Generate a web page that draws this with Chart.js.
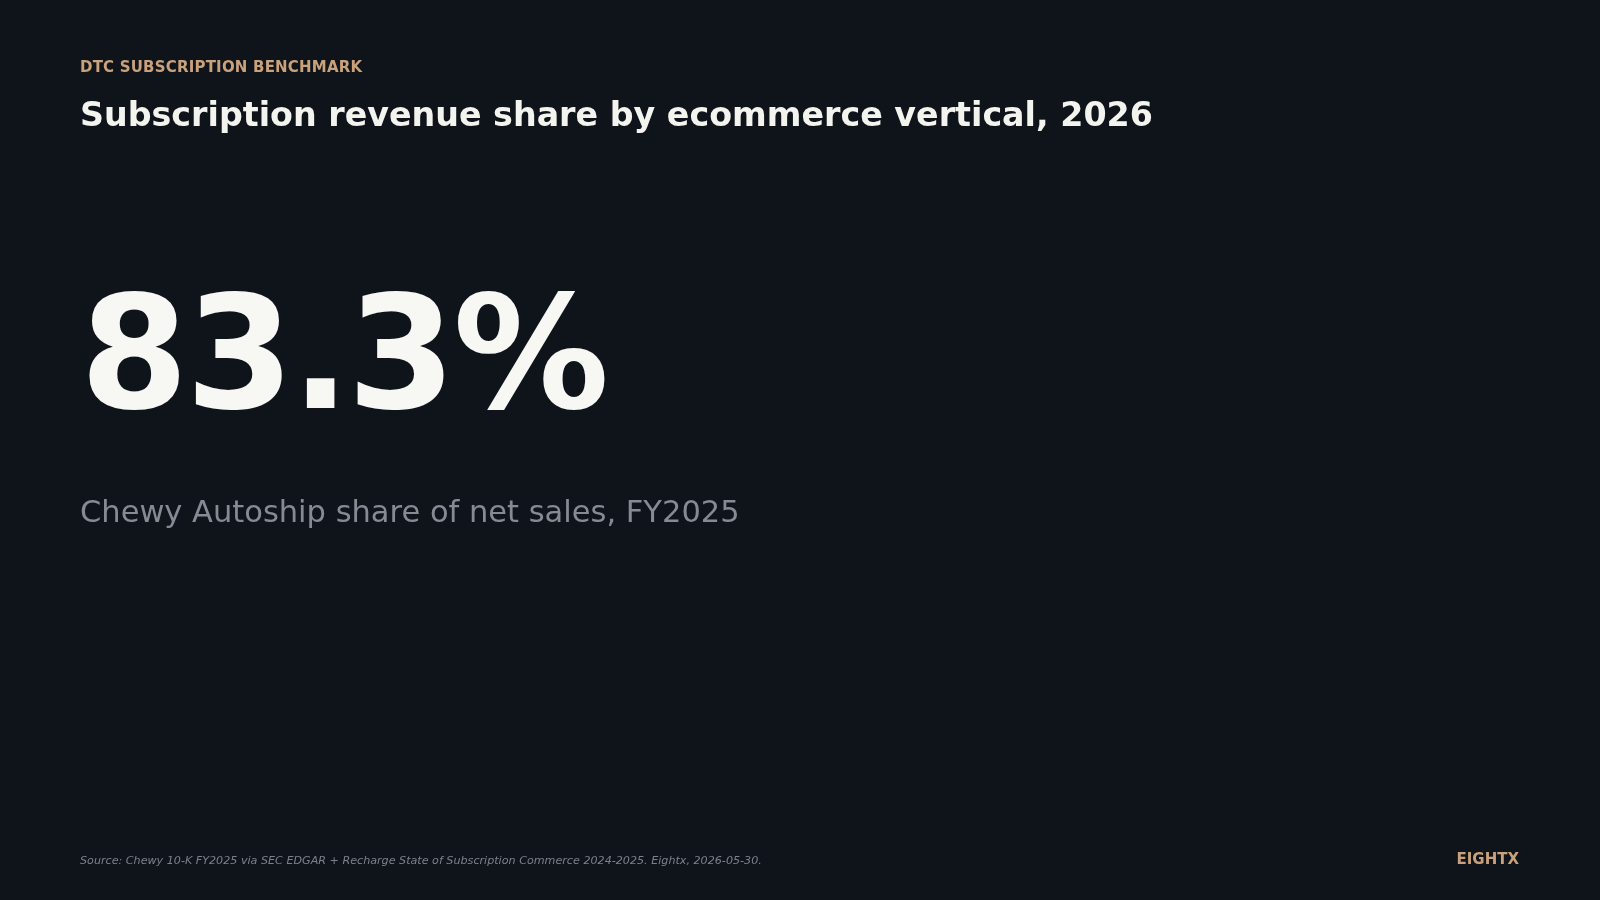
<!DOCTYPE html>
<html>
<head>
<meta charset="utf-8">
<title>Subscription revenue share by ecommerce vertical, 2026</title>
<script src="https://cdn.jsdelivr.net/npm/chart.js@4"></script>
<style>
  html, body { margin: 0; padding: 0; background: #0f131a; }
  #wrap { width: 1600px; height: 900px; }
</style>
</head>
<body>
<div id="wrap"><canvas id="kpiChart" width="1600" height="900"></canvas></div>
<script>
const kicker = ["DTC SUBSCRIPTION BENCHMARK"];
const titles = ["Subscription revenue share by ecommerce vertical, 2026"];
const metricLabels = ["Chewy Autoship share of net sales, FY2025"];
const metricValues = [83.3];
const sourceNote = ["Source: Chewy 10-K FY2025 via SEC EDGAR + Recharge State of Subscription Commerce 2024-2025. Eightx, 2026-05-30."];
const brand = ["EIGHTX"];

const font = "'DejaVu Sans', sans-serif";

function text(ctx, str, x, y, f, color, align, spacing) {
  ctx.save();
  ctx.font = f;
  ctx.fillStyle = color;
  ctx.textAlign = align || "left";
  ctx.textBaseline = "alphabetic";
  ctx.letterSpacing = spacing || "0px";
  ctx.fillText(str, x, y);
  ctx.restore();
}

const slidePlugin = {
  id: "slide",
  beforeDraw(chart) {
    const ctx = chart.ctx;
    ctx.save();
    ctx.fillStyle = "#0f131a";
    ctx.fillRect(0, 0, chart.width, chart.height);
    ctx.restore();
  },
  afterDraw(chart) {
    const ctx = chart.ctx;
    const value = chart.data.datasets[0].data[0];
    text(ctx, kicker[0], 80, 72, "bold 15px " + font, "#c9a27c", "left", "0.2px");
    text(ctx, titles[0], 80, 126, "bold 33.3px " + font, "#f4f4ef");
    text(ctx, value.toFixed(1) + "%", 80, 408, "bold 156px " + font, "#f7f7f3", "left", "-3px");
    text(ctx, chart.data.labels[0], 80, 522, "30.5px " + font, "#868a94");
    text(ctx, sourceNote[0], 80, 864, "italic 11.15px " + font, "#7d808a");
    text(ctx, brand[0], 1519, 864, "bold 15px " + font, "#c9a27c", "right");
  }
};

new Chart(document.getElementById("kpiChart"), {
  type: "bar",
  data: {
    labels: metricLabels,
    datasets: [{ label: "Share %", data: metricValues, backgroundColor: "rgba(0,0,0,0)" }]
  },
  options: {
    responsive: false,
    animation: false,
    events: [],
    plugins: { legend: { display: false }, tooltip: { enabled: false } },
    scales: { x: { display: false }, y: { display: false, min: 0, max: 100 } }
  },
  plugins: [slidePlugin]
});
</script>
</body>
</html>
